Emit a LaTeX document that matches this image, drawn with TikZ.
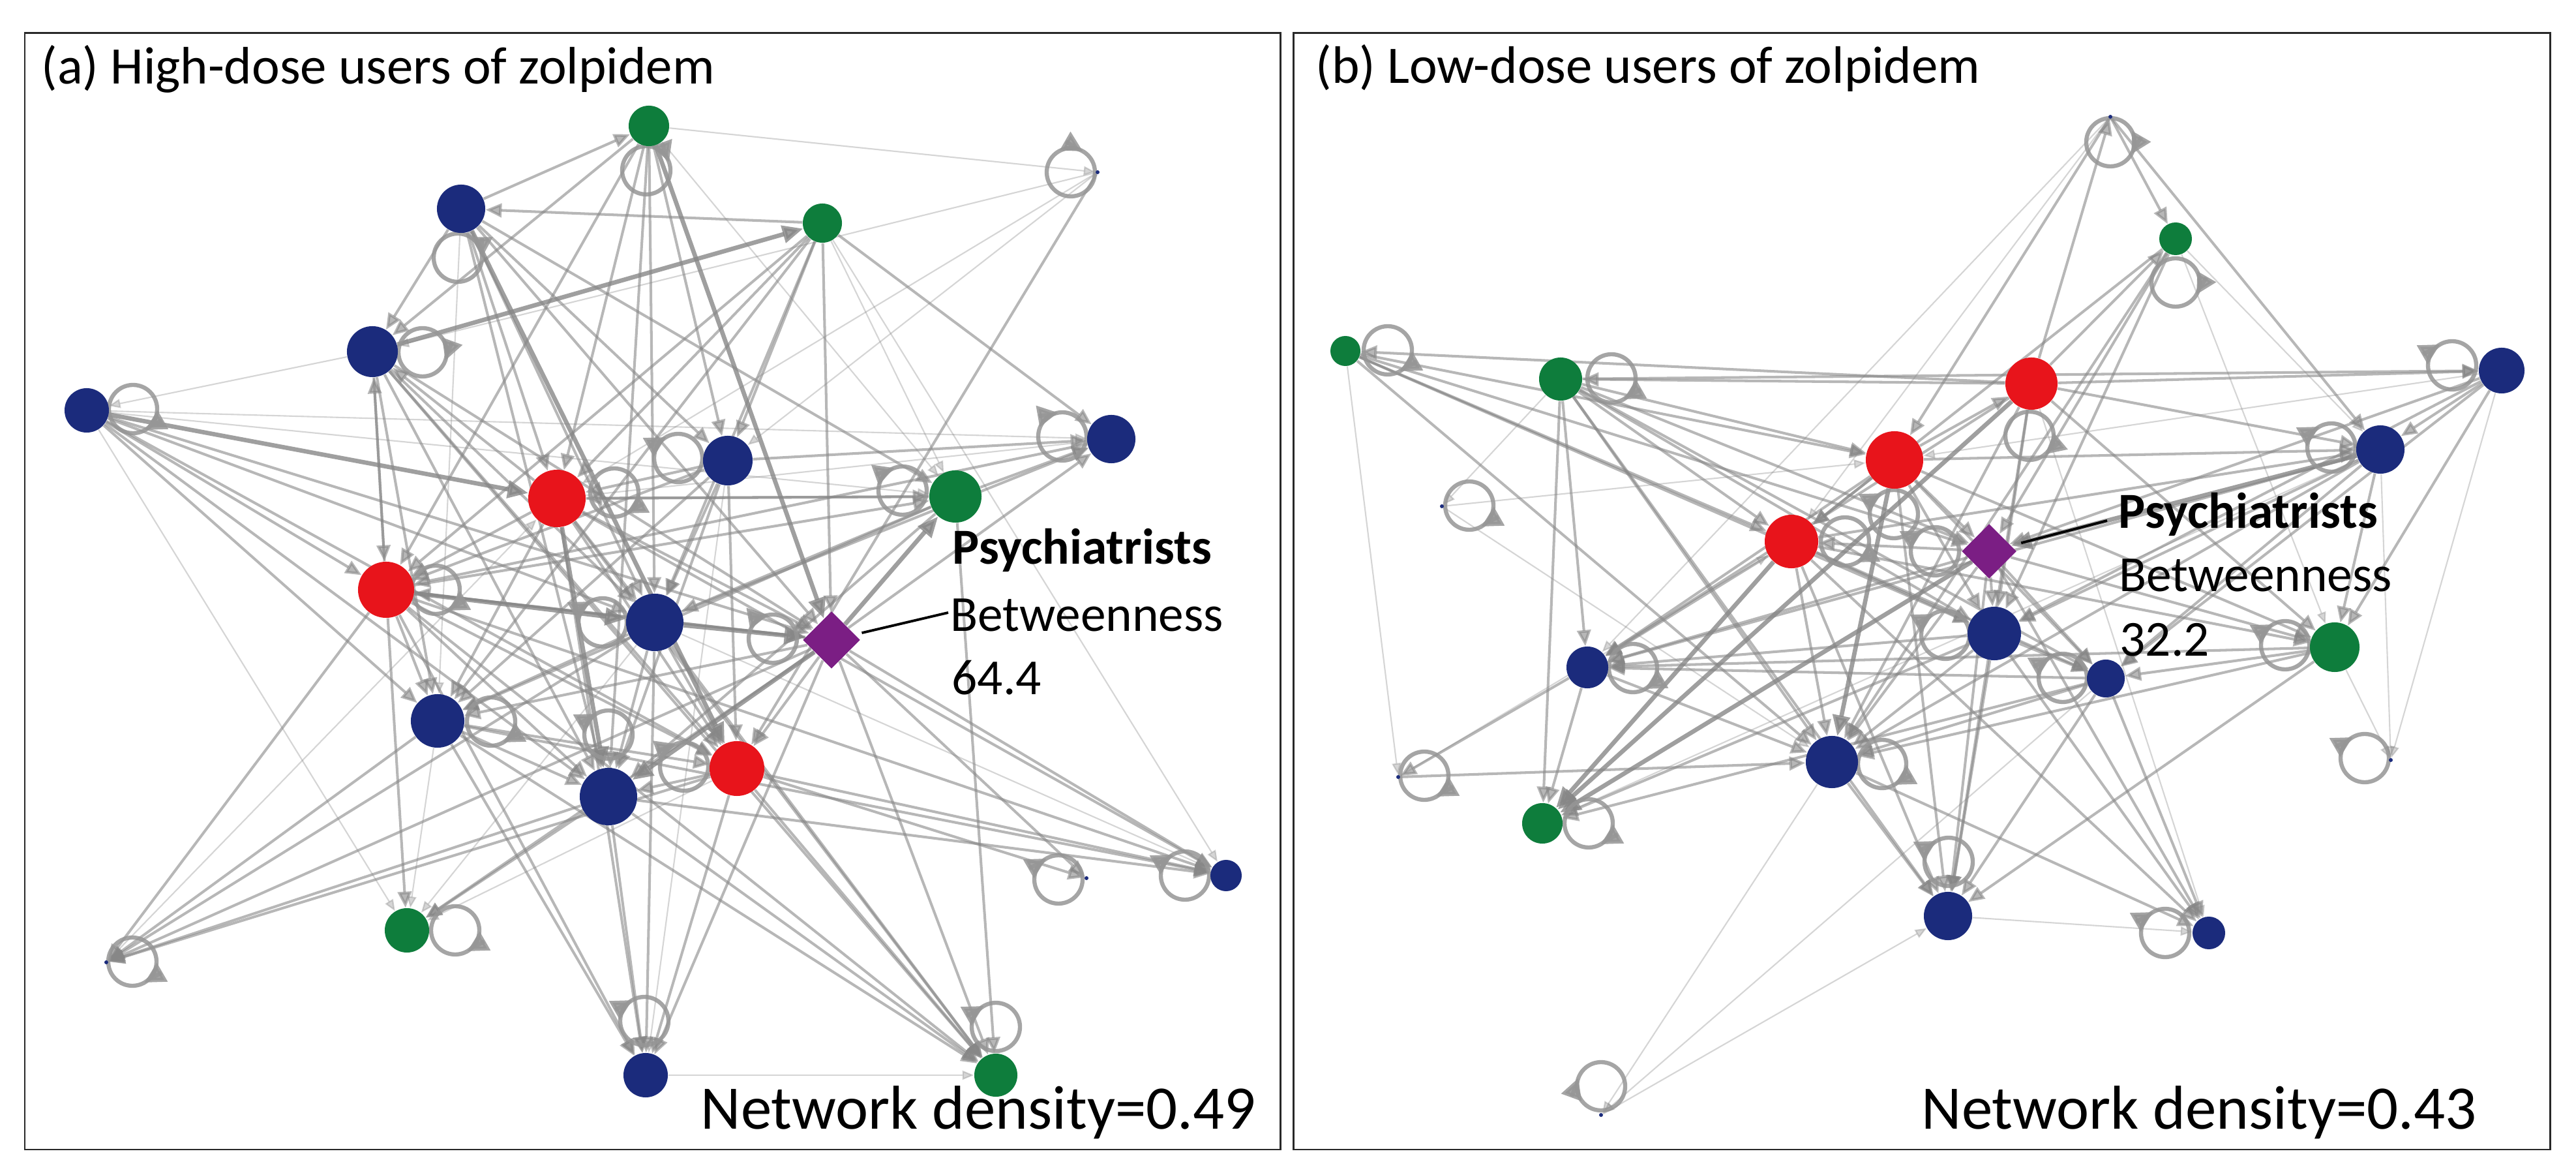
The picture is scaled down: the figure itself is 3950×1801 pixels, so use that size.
\documentclass[tikz,border=0pt]{standalone}
\usepackage{fontspec}
\setmainfont{Carlito}
\usetikzlibrary{shapes.geometric,arrows.meta}
\pgfdeclarelayer{bgfill}
\pgfdeclarelayer{edges}
\pgfsetlayers{bgfill,edges,main}
\definecolor{nblue}{RGB}{27,43,124}
\definecolor{nred}{RGB}{232,20,27}
\definecolor{ngreen}{RGB}{14,125,60}
\definecolor{npurple}{RGB}{123,30,132}
\definecolor{edgegray}{RGB}{135,135,135}
\definecolor{loopgray}{RGB}{150,150,150}
\definecolor{framegray}{RGB}{40,40,40}
\tikzset{
  bn/.style={circle, inner sep=0pt, fill=nblue, minimum size=#1},
  rn/.style={circle, inner sep=0pt, fill=nred, minimum size=#1},
  gn/.style={circle, inner sep=0pt, fill=ngreen, minimum size=#1},
  tinyd/.style={circle, inner sep=0pt, fill=nblue, minimum size=0.06cm},
  dia/.style={diamond, inner sep=0pt, fill=npurple, minimum width=#1, minimum height=#1},
  ethin/.style={draw=edgegray, opacity=0.35, line width=0.6pt, -{Triangle[length=5pt,width=4pt]}},
  emed/.style={draw=edgegray, opacity=0.6, line width=1.15pt, -{Triangle[length=7pt,width=6pt]}},
  ethick/.style={draw=edgegray, opacity=0.8, line width=1.9pt, -{Triangle[length=9pt,width=7.5pt]}},
  loopst/.style={draw=loopgray, opacity=0.85, line width=1.8pt},
  frame/.style={draw=framegray, line width=0.85pt},
  leader/.style={draw=black, line width=1.1pt},
  titletxt/.style={anchor=base west, inner sep=0pt, font=\fontsize{23}{27}\selectfont},
  labtxt/.style={anchor=base west, inner sep=0pt, font=\fontsize{22}{26}\selectfont},
  denstxt/.style={anchor=base west, inner sep=0pt, font=\fontsize{27}{32}\selectfont},
}
\newcommand\selfloop[3]{%
  \draw[loopst] (#1,#2) circle[radius=37];
  \draw[loopst,-{Triangle[length=9pt,width=9pt]}] (#1,#2) ++(#3:37) arc[start angle=#3, delta angle=40, radius=37];}
\begin{document}
\begin{tikzpicture}[x=0.01cm, y=-0.01cm]
\useasboundingbox (0,0) rectangle (3950,1801);
\begin{pgfonlayer}{bgfill}
\fill[white] (0,0) rectangle (3950,1801);
\end{pgfonlayer}

% ---------- frames ----------
\draw[frame] (38,51) rectangle (1963,1762);
\draw[frame] (1983,51) rectangle (3910,1762);

% ---------- panel (a) nodes ----------
\node[gn=0.62cm] (a1) at (995,193) {};
\node[bn=0.74cm] (a2) at (707,320) {};
\node[gn=0.60cm] (a3) at (1261,342) {};
\node[tinyd] (a4) at (1683,264) {};
\node[bn=0.78cm] (a5) at (571,539) {};
\node[bn=0.68cm] (a6) at (133,629) {};
\node[bn=0.74cm] (a7) at (1704,673) {};
\node[bn=0.76cm] (a8) at (1116,706) {};
\node[rn=0.88cm] (a9) at (854,764) {};
\node[gn=0.80cm] (a10) at (1465,761) {};
\node[rn=0.86cm] (a11) at (592,904) {};
\node[bn=0.88cm] (a12) at (1004,954) {};
\node[dia=0.88cm] (dA) at (1275,981) {};
\node[bn=0.82cm] (a13) at (671,1105) {};
\node[rn=0.84cm] (a14) at (1130,1178) {};
\node[bn=0.88cm] (a15) at (933,1221) {};
\node[bn=0.48cm] (a16) at (1880,1342) {};
\node[tinyd] (a17) at (1666,1346) {};
\node[gn=0.68cm] (a18) at (624,1426) {};
\node[tinyd] (a19) at (163,1475) {};
\node[bn=0.68cm] (a20) at (990,1648) {};
\node[gn=0.66cm] (a21) at (1527,1648) {};

% ---------- panel (b) nodes ----------
\node[gn=0.46cm] (b1) at (2063,538) {};
\node[gn=0.66cm] (b2) at (2393,581) {};
\node[tinyd] (b3) at (2211,776) {};
\node[rn=0.88cm] (b4) at (2905,705) {};
\node[rn=0.82cm] (b5) at (2747,830) {};
\node[rn=0.80cm] (b6) at (3115,588) {};
\node[tinyd] (b7) at (3236,179) {};
\node[gn=0.50cm] (b8) at (3336,366) {};
\node[bn=0.70cm] (b9) at (3836,568) {};
\node[bn=0.74cm] (b10) at (3650,689) {};
\node[dia=0.84cm] (dB) at (3050,845) {};
\node[bn=0.82cm] (b11) at (3058,971) {};
\node[bn=0.58cm] (b12) at (3229,1040) {};
\node[gn=0.76cm] (b13) at (3580,992) {};
\node[tinyd] (b14) at (3666,1165) {};
\node[bn=0.64cm] (b15) at (2434,1023) {};
\node[tinyd] (b16) at (2144,1191) {};
\node[gn=0.62cm] (b17) at (2365,1262) {};
\node[bn=0.80cm] (b18) at (2809,1168) {};
\node[bn=0.74cm] (b19) at (2987,1404) {};
\node[bn=0.50cm] (b20) at (3387,1430) {};
\node[tinyd] (b21) at (2455,1709) {};

% ---------- edges and loops ----------
\begin{pgfonlayer}{edges}
\foreach \s/\t in {a5/a6, a6/a18, a6/a7, a1/a4, a3/a10, a4/a9, a4/a5, a20/a21, a3/a16, a2/a13, a1/a10, a12/a16, a8/a20, a4/a8, a13/a18, a14/a18, a19/a9, a12/a18, a6/a10, a9/a7}
  \draw[ethin] (\s) -- (\t);
\foreach \s/\t in {a6/a12, a6/a15, a6/a14, a6/dA, a6/a13, a6/a11, a11/a19, a13/a19, a15/a19, a12/a19, dA/a19, a14/a19, a3/a2, a2/a1, a2/a5, a2/a9, a2/a12, a2/dA, a2/a15, a2/a8, a2/a10, a1/a5, a1/a9, a1/a8, a1/a12, a1/a11, a1/a15, a3/a7, a3/a8, a3/a12, a3/dA, a3/a13, a3/a11, a3/a9, a4/a14, a10/a7, dA/a7, a8/a7, a12/a7, a7/a11, a8/a15, a8/a11, a8/a13, a8/a14, a8/a9, a8/a12, a9/a11, a9/a12, a9/a14, a9/dA, a9/a13, a9/a20, a9/a10, a9/a5, a10/a12, a10/a9, a10/a13, a10/a15, a11/a10, a11/a13, a11/a15, a11/dA, a11/a14, a11/a20, a11/a18, a11/a5, a12/a15, a12/a14, a12/a13, a12/a20, dA/a14, dA/a13, dA/a16, dA/a17, dA/a21, dA/a20, dA/a18, dA/a11, a13/a15, a13/a14, a13/a20, a14/a16, a14/a17, a14/a21, a14/a20, a14/a15, a15/a20, a15/a21, a15/a16, a15/a18, a9/a16, a11/a16, a13/a16, a9/a21, a11/a21, a13/a21, a10/a21, a5/a21, a12/a21, a5/a11, a5/a13, a5/a15, a5/a14, a5/dA, a5/a12}
  \draw[emed] (\s) -- (\t);
\foreach \s/\t in {a1/dA, a12/dA, dA/a10, a6/a9, a5/a3, a11/a12, a2/a14, a9/a15, dA/a15}
  \draw[ethick] (\s) -- (\t);

\foreach \s/\t in {b1/b16, b3/b4, b3/b18, b16/b5, b7/b5, b18/b21, b21/b19, b19/b20, b8/b13, b9/b14, b13/b14, b10/b14, b7/b15, b1/b12, b2/b3, b6/b20, b10/b17, b9/b4, b8/b10, b12/b21}
  \draw[ethin] (\s) -- (\t);
\foreach \s/\t in {b6/b1, b1/b5, b1/b4, b1/dB, b1/b11, b1/b18, b2/b4, b2/b5, b2/dB, b2/b11, b2/b18, b2/b15, b2/b17, b2/b9, b2/b12, b2/b19, b4/b5, b4/dB, b4/b11, b4/b15, b4/b19, b4/b10, b4/b6, b4/b12, b4/b13, b5/b15, b5/b18, b5/b19, b5/b11, b5/b12, b5/b10, b5/b13, b5/b20, b6/b7, b6/b8, b6/b10, b6/b9, b6/b11, b6/b18, b6/b15, b6/b13, b6/b19, b6/b2, b7/b8, b7/b10, b7/b4, b8/dB, b8/b18, b8/b11, b8/b5, b9/b10, b9/b13, b9/b12, b9/b11, b9/dB, b10/b11, b10/b12, b10/b13, b10/b18, b10/b15, dB/b11, dB/b12, dB/b18, dB/b19, dB/b15, dB/b13, dB/b20, dB/b5, b11/b19, b11/b18, b11/b12, b11/b17, b11/b15, b11/b20, b13/b12, b13/b18, b13/b15, b13/b19, b15/b18, b15/b17, b15/b16, b16/b18, b18/b19, b18/b20, b12/b19, b12/b20, b12/b17, b12/b15, b12/b18}
  \draw[emed] (\s) -- (\t);
\foreach \s/\t in {b5/b17, b6/b17, dB/b17, b10/dB, b4/b18}
  \draw[ethick] (\s) -- (\t);

% self loops (a)
\selfloop{991}{261}{-60}
\selfloop{702}{395}{-40}
\selfloop{1642}{264}{-100}
\selfloop{648}{540}{-20}
\selfloop{204}{627}{20}
\selfloop{1629}{669}{-140}
\selfloop{1040}{702}{-160}
\selfloop{942}{755}{20}
\selfloop{1384}{752}{-150}
\selfloop{668}{904}{20}
\selfloop{924}{954}{-160}
\selfloop{1185}{979}{-140}
\selfloop{753}{1106}{20}
\selfloop{1049}{1175}{-150}
\selfloop{933}{1126}{-160}
\selfloop{1817}{1342}{-160}
\selfloop{1623}{1348}{-160}
\selfloop{698}{1426}{20}
\selfloop{203}{1474}{20}
\selfloop{988}{1565}{-160}
\selfloop{1527}{1574}{-160}
% self loops (b)
\selfloop{2128}{537}{20}
\selfloop{2471}{580}{20}
\selfloop{2253}{775}{20}
\selfloop{2904}{788}{-160}
\selfloop{2829}{830}{20}
\selfloop{3112}{668}{10}
\selfloop{3236}{218}{-10}
\selfloop{3336}{433}{-10}
\selfloop{3760}{560}{-160}
\selfloop{3575}{686}{-160}
\selfloop{2967}{845}{-160}
\selfloop{2983}{973}{-160}
\selfloop{3163}{1039}{-160}
\selfloop{3504}{989}{-160}
\selfloop{3626}{1162}{-160}
\selfloop{2504}{1024}{20}
\selfloop{2184}{1189}{20}
\selfloop{2436}{1262}{20}
\selfloop{2886}{1171}{20}
\selfloop{2988}{1321}{-160}
\selfloop{3320}{1430}{-160}
\selfloop{2455}{1665}{160}
\end{pgfonlayer}

% ---------- labels ----------
\node[titletxt] (ta) at (63,129) {(a) High-dose users of zolpidem};
\node[titletxt] (tb) at (2017,128) {(b) Low-dose users of zolpidem};

\node[labtxt, font=\fontsize{22}{26}\selectfont\bfseries] (pa) at (1460,865) {Psychiatrists};
\node[labtxt] (ba) at (1457,968) {Betweenness};
\node[labtxt] (va) at (1459,1065) {64.4};
\coordinate (lA) at (1454,939);
\draw[leader, shorten <=3pt] (dA) -- (lA);

\node[labtxt, font=\fontsize{22}{26}\selectfont\bfseries] (pb) at (3248,810) {Psychiatrists};
\node[labtxt] (bb) at (3249,907) {Betweenness};
\node[labtxt] (vb) at (3250,1006) {32.2};
\coordinate (lB) at (3231,798);
\draw[leader, shorten <=4.5pt] (dB) -- (lB);

\node[denstxt] (da) at (1074,1730) {Network density=0.49};
\node[denstxt] (db) at (2946,1730) {Network density=0.43};
\end{tikzpicture}
\end{document}
